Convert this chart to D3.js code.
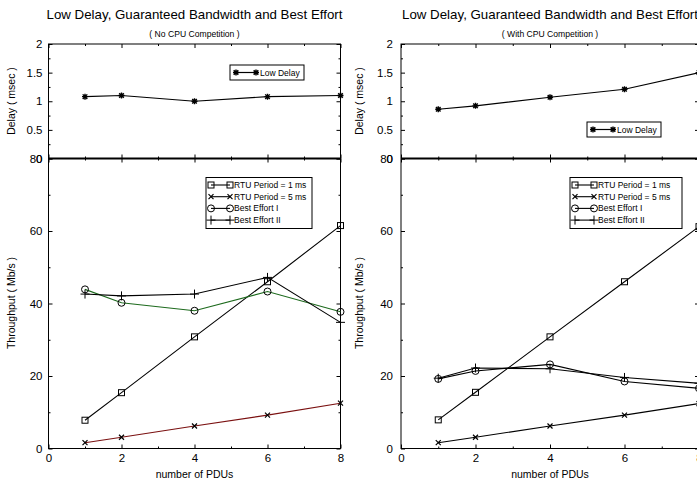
<!DOCTYPE html>
<html>
<head>
<meta charset="utf-8">
<script src="https://cdn.jsdelivr.net/npm/d3@7"></script>
<style>
  body { margin: 0; background: #fff; }
  svg { display: block; }
  text { font-family: "Liberation Sans", Arial, sans-serif; fill: #000; }
</style>
</head>
<body>
<svg id="chart" width="697" height="481"></svg>
<script>
// x values (number of PDUs)
var pdus = [1, 2, 4, 6, 8];

// left chart: no CPU competition
var delayNoCpu = [1.08, 1.10, 1.00, 1.08, 1.10];
var rtu1NoCpu = [7.8, 15.4, 30.8, 46.0, 61.5];
var rtu5NoCpu = [1.6, 3.1, 6.2, 9.2, 12.5];
var be1NoCpu = [43.9, 40.2, 38.0, 43.3, 37.7];
var be2NoCpu = [42.6, 42.1, 42.6, 47.2, 34.8];

// right chart: with CPU competition
var delayCpu = [0.86, 0.92, 1.07, 1.21, 1.50];
var rtu1Cpu = [7.9, 15.5, 30.8, 46.0, 61.2];
var rtu5Cpu = [1.6, 3.1, 6.2, 9.2, 12.4];
var be1Cpu = [19.2, 21.4, 23.2, 18.5, 16.6];
var be2Cpu = [19.4, 22.2, 22.0, 19.6, 18.0];

// ticks
var xTicks = [0, 2, 4, 6, 8];
var xMinor = [1, 3, 5, 7];
var delayTicks = [0, 0.5, 1, 1.5, 2];
var delayMinor = [0.25, 0.75, 1.25, 1.75];
var tputTicks = [0, 20, 40, 60, 80];
var tputMinor = [10, 30, 50, 70];

var title = "Low Delay, Guaranteed Bandwidth and Best Effort";
var subtitles = ["( No CPU Competition )", "( With CPU Competition )"];
var seriesNames = ["RTU Period = 1 ms", "RTU Period = 5 ms", "Best Effort I", "Best Effort II"];
var markers = ["square", "cross", "circle", "plus"];

var svg = d3.select("#chart");

function drawMarker(g, type, x, y) {
    if (type == "square") {
        g.append("rect").attr("x", x - 3).attr("y", y - 3).attr("width", 6).attr("height", 6)
            .attr("fill", "none").attr("stroke", "#000").attr("stroke-width", 1);
    } else if (type == "circle") {
        g.append("circle").attr("cx", x).attr("cy", y).attr("r", 3.5)
            .attr("fill", "none").attr("stroke", "#000").attr("stroke-width", 1);
    } else if (type == "cross") {
        g.append("path").attr("d", "M" + (x - 2.5) + "," + (y - 2.5) + "L" + (x + 2.5) + "," + (y + 2.5) +
            "M" + (x - 2.5) + "," + (y + 2.5) + "L" + (x + 2.5) + "," + (y - 2.5))
            .attr("stroke", "#000").attr("stroke-width", 1.2);
    } else if (type == "plus") {
        g.append("path").attr("d", "M" + (x - 4.5) + "," + y + "L" + (x + 4.5) + "," + y +
            "M" + x + "," + (y - 4.5) + "L" + x + "," + (y + 4.5))
            .attr("stroke", "#000").attr("stroke-width", 1);
    } else if (type == "star") {
        g.append("path").attr("d", "M" + (x - 3) + "," + y + "L" + (x + 3) + "," + y +
            "M" + x + "," + (y - 3) + "L" + x + "," + (y + 3) +
            "M" + (x - 2.3) + "," + (y - 2.3) + "L" + (x + 2.3) + "," + (y + 2.3) +
            "M" + (x - 2.3) + "," + (y + 2.3) + "L" + (x + 2.3) + "," + (y - 2.3))
            .attr("stroke", "#000").attr("stroke-width", 1.4);
    }
}

function styleAxis(a, size) {
    a.select(".domain").remove();
    a.selectAll("line").attr("stroke", "#000");
    a.selectAll("text").attr("font-size", size).attr("font-family", "\"Liberation Sans\", Arial, sans-serif").attr("fill", "#000");
}

function drawChart(cfg) {
    var x = d3.scaleLinear().domain([0, 8]).range([cfg.left, cfg.right]);
    var yD = d3.scaleLinear().domain([0, 2]).range([158.5, 44]);
    var yT = d3.scaleLinear().domain([0, 80]).range([448.5, 158.5]);
    var g = svg.append("g");

    // titles
    var cx = (cfg.left + cfg.right) / 2;
    g.append("text").attr("x", cx).attr("y", 18.5).attr("text-anchor", "middle")
        .attr("font-size", 13.3).text(title);
    g.append("text").attr("x", cx).attr("y", 36.5).attr("text-anchor", "middle")
        .attr("font-size", 8.6).text(cfg.subtitle);

    // y axes, delay panel
    var a;
    a = g.append("g").attr("transform", "translate(" + cfg.left + ",0)")
        .call(d3.axisLeft(yD).tickValues(delayTicks).tickSize(-4).tickPadding(cfg.pad).tickFormat(d3.format("")));
    styleAxis(a, 11.5);
    a = g.append("g").attr("transform", "translate(" + cfg.left + ",0)")
        .call(d3.axisLeft(yD).tickValues(delayMinor).tickSize(-2).tickFormat(""));
    styleAxis(a, 11.5);
    a = g.append("g").attr("transform", "translate(" + cfg.right + ",0)")
        .call(d3.axisRight(yD).tickValues(delayTicks).tickSize(-4).tickFormat(""));
    styleAxis(a, 11.5);
    a = g.append("g").attr("transform", "translate(" + cfg.right + ",0)")
        .call(d3.axisRight(yD).tickValues(delayMinor).tickSize(-2).tickFormat(""));
    styleAxis(a, 11.5);

    // y axes, throughput panel
    a = g.append("g").attr("transform", "translate(" + cfg.left + ",0)")
        .call(d3.axisLeft(yT).tickValues(tputTicks).tickSize(-4).tickPadding(cfg.pad));
    styleAxis(a, 11.5);
    a = g.append("g").attr("transform", "translate(" + cfg.left + ",0)")
        .call(d3.axisLeft(yT).tickValues(tputMinor).tickSize(-2).tickFormat(""));
    styleAxis(a, 11.5);
    a = g.append("g").attr("transform", "translate(" + cfg.right + ",0)")
        .call(d3.axisRight(yT).tickValues(tputTicks).tickSize(-4).tickFormat(""));
    styleAxis(a, 11.5);
    a = g.append("g").attr("transform", "translate(" + cfg.right + ",0)")
        .call(d3.axisRight(yT).tickValues(tputMinor).tickSize(-2).tickFormat(""));
    styleAxis(a, 11.5);

    // x axes: bottom with labels, the rest tick marks only
    a = g.append("g").attr("transform", "translate(0,448.5)")
        .call(d3.axisBottom(x).tickValues(xTicks).tickSize(-4).tickPadding(5));
    styleAxis(a, 11.5);
    var tickRows = [
        [448.5, -2, xMinor], [44, 4, xTicks], [44, 2, xMinor],
        [158.5, 4, xTicks], [158.5, -4, xTicks], [158.5, 2, xMinor], [158.5, -2, xMinor]
    ];
    tickRows.forEach(function (t) {
        var ax = g.append("g").attr("transform", "translate(0," + t[0] + ")")
            .call(d3.axisBottom(x).tickValues(t[2]).tickSize(t[1]).tickFormat(""));
        styleAxis(ax, 11.5);
    });

    // frame
    g.append("rect").attr("x", cfg.left).attr("y", 44).attr("width", cfg.right - cfg.left).attr("height", 448.5 - 44)
        .attr("fill", "none").attr("stroke", "#000").attr("stroke-width", 1);
    g.append("line").attr("x1", cfg.left).attr("x2", cfg.right).attr("y1", 158.5).attr("y2", 158.5)
        .attr("stroke", "#000").attr("stroke-width", 2);

    // axis labels
    g.append("text").attr("transform", "translate(" + (cfg.left - cfg.labelOff) + ",101) rotate(-90)")
        .attr("text-anchor", "middle").attr("font-size", 10.5).text("Delay ( msec )");
    g.append("text").attr("transform", "translate(" + (cfg.left - cfg.labelOff) + ",303) rotate(-90)")
        .attr("text-anchor", "middle").attr("font-size", 10.5).text("Throughput ( Mb/s )");
    g.append("text").attr("x", x(4)).attr("y", 478).attr("text-anchor", "middle")
        .attr("font-size", 10.5).text("number of PDUs");

    var line = d3.line().x(function (d) { return x(d[0]); }).y(function (d) { return d[1]; });

    // delay series
    var dpts = pdus.map(function (p, i) { return [p, yD(cfg.delay[i])]; });
    g.append("path").attr("d", line(dpts)).attr("fill", "none").attr("stroke", "#000").attr("stroke-width", 1.2);
    dpts.forEach(function (p) { drawMarker(g, "star", x(p[0]), p[1]); });

    // throughput series
    cfg.series.forEach(function (s, k) {
        var pts = pdus.map(function (p, i) { return [p, yT(s[i])]; });
        g.append("path").attr("d", line(pts)).attr("fill", "none")
            .attr("stroke", cfg.colors[k]).attr("stroke-width", 1.1);
        pts.forEach(function (p) { drawMarker(g, markers[k], x(p[0]), p[1]); });
    });

    // delay legend
    var dl = cfg.delayLegend;
    g.append("rect").attr("x", dl[0]).attr("y", dl[1]).attr("width", 74).attr("height", 15)
        .attr("fill", "#fff").attr("stroke", "#000").attr("stroke-width", 1);
    g.append("line").attr("x1", dl[0] + 6).attr("x2", dl[0] + 26).attr("y1", dl[1] + 7.5).attr("y2", dl[1] + 7.5)
        .attr("stroke", "#000").attr("stroke-width", 1.2);
    drawMarker(g, "star", dl[0] + 6, dl[1] + 7.5);
    drawMarker(g, "star", dl[0] + 26, dl[1] + 7.5);
    g.append("text").attr("x", dl[0] + 30).attr("y", dl[1] + 10.5).attr("font-size", 8.5).text("Low Delay");

    // throughput legend
    var tl = cfg.tputLegend;
    g.append("rect").attr("x", tl[0]).attr("y", tl[1]).attr("width", tl[2]).attr("height", 51)
        .attr("fill", "#fff").attr("stroke", "#000").attr("stroke-width", 1);
    seriesNames.forEach(function (n, k) {
        var ly = tl[1] + 7.5 + k * 11.7;
        g.append("line").attr("x1", tl[0] + 5).attr("x2", tl[0] + 24).attr("y1", ly).attr("y2", ly)
            .attr("stroke", "#000").attr("stroke-width", 1.1);
        drawMarker(g, markers[k], tl[0] + 5, ly);
        drawMarker(g, markers[k], tl[0] + 24, ly);
        g.append("text").attr("x", tl[0] + 28).attr("y", ly + 3).attr("font-size", 8.5).text(n);
    });
}

drawChart({
    left: 48.5, right: 340.5, subtitle: subtitles[0], pad: 6, labelOff: 33.5,
    delay: delayNoCpu,
    series: [rtu1NoCpu, rtu5NoCpu, be1NoCpu, be2NoCpu],
    colors: ["#000", "#7a1010", "#1d6a1d", "#000"],
    delayLegend: [230, 65], tputLegend: [206, 177.5, 106]
});
drawChart({
    left: 401, right: 699, subtitle: subtitles[1], pad: 8, labelOff: 38.5,
    delay: delayCpu,
    series: [rtu1Cpu, rtu5Cpu, be1Cpu, be2Cpu],
    colors: ["#000", "#000", "#000", "#000"],
    delayLegend: [587, 122], tputLegend: [570, 177.5, 112]
});
</script>
</body>
</html>
